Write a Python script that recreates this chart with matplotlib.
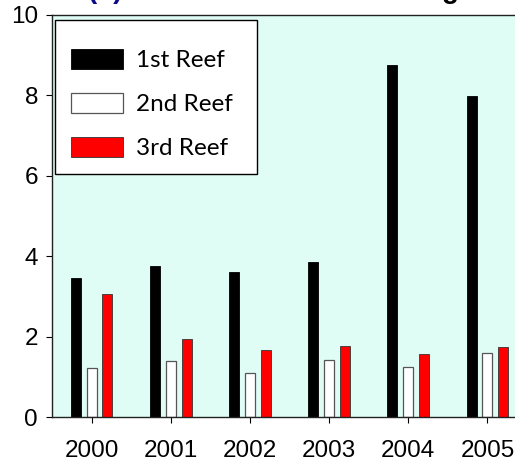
import matplotlib
matplotlib.use("Agg")
import matplotlib.pyplot as plt
import numpy as np
from matplotlib.patches import Rectangle

years = ["2000", "2001", "2002", "2003", "2004", "2005"]
reef1 = [3.47, 3.76, 3.61, 3.86, 8.75, 7.99]
reef2 = [1.23, 1.41, 1.11, 1.43, 1.24, 1.61]
reef3 = [3.06, 1.94, 1.67, 1.78, 1.57, 1.74]
series_labels = ["1st Reef", "2nd Reef", "3rd Reef"]
yticks = [0, 2, 4, 6, 8, 10]

W, H = 515, 466
fig = plt.figure(figsize=(W / 100, H / 100), dpi=100)
fig.patch.set_facecolor("white")

ax = fig.add_axes([52 / W, (H - 417.3) / H, 475 / W, 402.3 / H])
ax.set_facecolor("#dffcf5")

x = np.arange(len(years))
bw = 0.128
ax.bar(x - 0.2, reef1, bw, color="black", edgecolor="black", linewidth=0.6, label=series_labels[0])
ax.bar(x, reef2, bw, color="white", edgecolor="#555555", linewidth=0.9, label=series_labels[1])
ax.bar(x + 0.2, reef3, bw, color="#ff0000", edgecolor="#333333", linewidth=0.6, label=series_labels[2])

ax.set_xlim(-0.5, 5.5)
ax.set_ylim(0, 10)
ax.set_xticks(x)
ax.set_xticklabels(years)
ax.set_yticks(yticks)
ax.set_yticklabels([str(v) for v in yticks])
for lab in ax.get_xticklabels():
    lab.set_fontfamily("Liberation Sans")
    lab.set_fontsize(17.5)
for lab in ax.get_yticklabels():
    lab.set_fontfamily("Liberation Sans")
    lab.set_fontsize(17.5)
ax.tick_params(axis="y", direction="out", length=4, width=0.8, pad=6)
ax.tick_params(axis="x", direction="out", length=4, width=0.8, pad=12)
for s in ax.spines.values():
    s.set_linewidth(1.0)
    s.set_color("#222222")

# legend frame
frame = Rectangle((55 / W, 1 - 174 / H), 202 / W, 154 / H,
                  transform=fig.transFigure, facecolor="white",
                  edgecolor="black", linewidth=1.0, zorder=5, clip_on=False)
ax.add_patch(frame)
leg = ax.legend(loc="upper left", bbox_to_anchor=(70.7 / W, 1 - 49 / H),
                bbox_transform=fig.transFigure, frameon=False, borderpad=0,
                borderaxespad=0, handlelength=2.14, handleheight=0.86,
                handletextpad=0.55, labelspacing=0.9,
                prop={"family": "Lato", "size": 17.5})
leg.set_zorder(6)

# title (cut off at the top of the image, as in the reference)
fig.text(88 / W, 1 + 1.5 / H, "(b)", color="#0a0a8a", fontsize=20, fontweight="bold",
         family="Liberation Sans", ha="left", va="baseline")
fig.text(459 / W, 1 + 1.5 / H, "Coral Bleaching", color="black", fontsize=20, fontweight="bold",
         family="Liberation Sans", ha="right", va="baseline")

fig.savefig("out.png", dpi=100)
